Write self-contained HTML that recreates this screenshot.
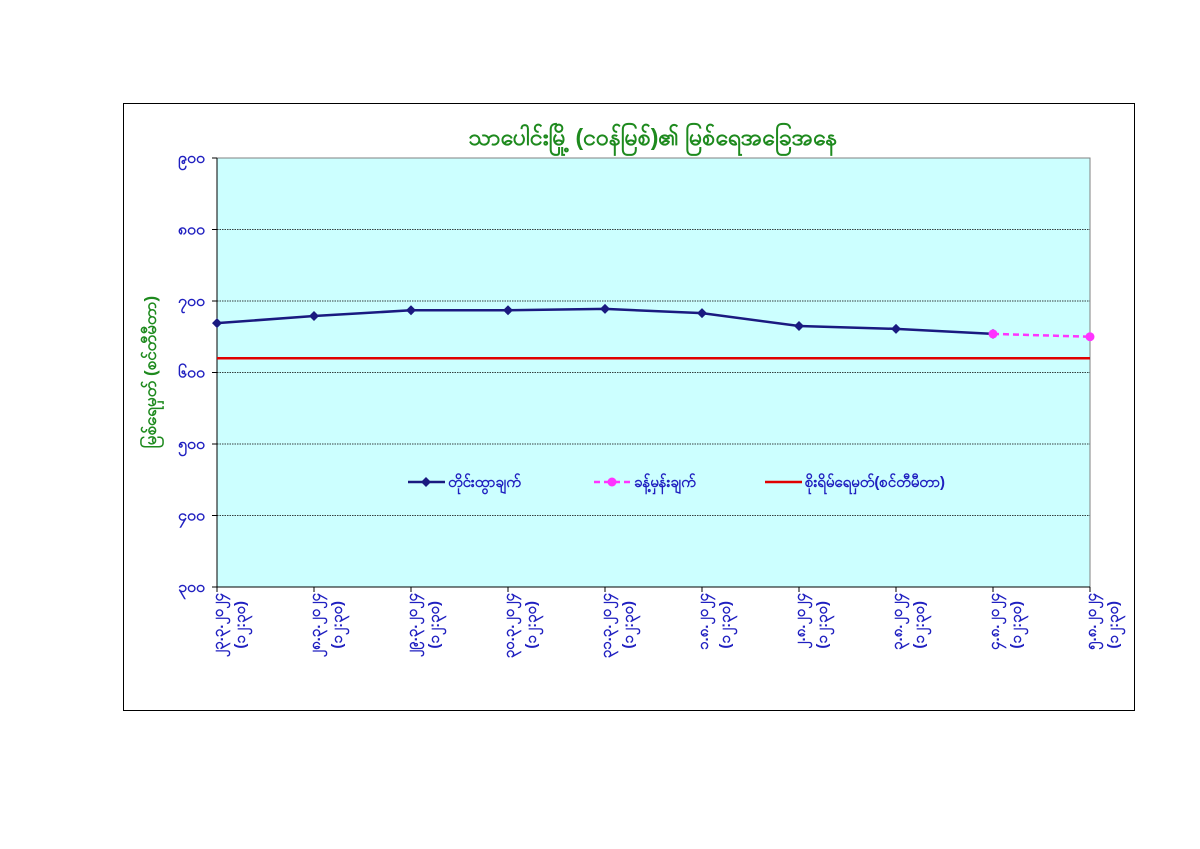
<!DOCTYPE html>
<html><head><meta charset="utf-8"><style>
html,body{margin:0;padding:0;background:#fff;width:1200px;height:849px;overflow:hidden}
svg{display:block;font-family:"Liberation Sans","Noto Sans CJK SC",sans-serif}
</style></head><body>
<svg id="chart" width="1200" height="849">
<rect x="123.5" y="103.5" width="1011" height="607" fill="#fff" stroke="#000" stroke-width="1"/>
<text x="653" y="145" text-anchor="middle" font-size="23" font-weight="bold" fill="#1e8a1e">သာပေါင်းမြို့ (ငဝန်မြစ်)၏ မြစ်ရေအခြေအနေ</text>
<text transform="translate(156,372) rotate(-90)" text-anchor="middle" font-size="17" font-weight="bold" fill="#1e8a1e">မြစ်ရေမှတ် (စင်တီမီတာ)</text>
<g id="plot"></g>
</svg>
<script>
const categories=["၂၃.၃.၂၀၂၄","၂၈.၃.၂၀၂၄","၂၉.၃.၂၀၂၄","၃၀.၃.၂၀၂၄","၃၁.၃.၂၀၂၄","၁.၈.၂၀၂၄","၂.၈.၂၀၂၄","၃.၈.၂၀၂၄","၄.၈.၂၀၂၄","၅.၈.၂၀၂၄"];
const timeLabel="(၁၂:၃၀)";
const observed=[669,679,687,687,689,683,665,661,654,null];
const forecast=[null,null,null,null,null,null,null,null,654,650];
const dangerLevel=620;
const yTicks=[300,400,500,600,700,800,900];
const yTickLabels=["၃၀၀","၄၀၀","၅၀၀","၆၀၀","၇၀၀","၈၀၀","၉၀၀"];
const legendLabels=["တိုင်းထွာချက်","ခန့်မှန်းချက်","စိုးရိမ်ရေမှတ်(စင်တီမီတာ)"];

const X0=217,X1=1090,Y0=587,Y1=158,YMIN=300,YMAX=900;
const xs=i=>X0+(X1-X0)*i/(categories.length-1);
const ys=v=>Y0-(v-YMIN)/(YMAX-YMIN)*(Y0-Y1);
const NS="http://www.w3.org/2000/svg";
const g=document.getElementById('plot');
function mk(t,a,p){const e=document.createElementNS(NS,t);for(const k in a)e.setAttribute(k,a[k]);(p||g).appendChild(e);return e;}

const bg=mk('rect',{x:X0,y:Y1,width:X1-X0,height:Y0-Y1,fill:'#ccffff',stroke:'#808080'});



yTicks.forEach((v,i)=>{
  const y=ys(v);
  if(v!==YMIN&&v!==YMAX){const l=mk('line',{x1:X0,x2:X1,y1:y,y2:y,stroke:'#000','stroke-width':0.7,'stroke-dasharray':'1.5,1'});
  
  }
  mk('line',{x1:X0-5,x2:X0,y1:y,y2:y,stroke:'#000'});
  const t=mk('text',{x:X0-12,y:y+5,'text-anchor':'end','font-size':16,'font-weight':'bold',fill:'#2020c0'});
  t.textContent=yTickLabels[i];
  
  
});
mk('line',{x1:X0,x2:X0,y1:Y1,y2:Y0,stroke:'#000'});
mk('line',{x1:X0,x2:X1,y1:Y0,y2:Y0,stroke:'#000'});

categories.forEach((c,i)=>{
  const x=xs(i);
  mk('line',{x1:x,x2:x,y1:Y0,y2:Y0+5,stroke:'#000'});
  const t=mk('text',{transform:`translate(${x+6},${Y0+6}) rotate(-90)`,'text-anchor':'end','font-size':15,'font-weight':'bold',fill:'#2020c0'});
  t.textContent=c;
  
  
  const t2=mk('text',{transform:`translate(${x+28},${Y0+14}) rotate(-90)`,'text-anchor':'end','font-size':15,'font-weight':'bold',fill:'#2020c0'});
  t2.textContent=timeLabel;
  
  
});

const dl=mk('line',{x1:X0,x2:X1,y1:ys(dangerLevel),y2:ys(dangerLevel),stroke:'#e00000','stroke-width':2.5});



function series(arr,color,dash,marker,name){
  const pts=[];arr.forEach((v,i)=>{if(v!=null)pts.push([xs(i),ys(v)]);});
  const p=mk('polyline',{points:pts.map(p=>p.join(',')).join(' '),fill:'none',stroke:color,'stroke-width':2.5,'stroke-dasharray':dash||''});
  
  
  pts.forEach(([x,y])=>{
    const m=marker==='d'?mk('polygon',{points:`${x},${y-5} ${x+5},${y} ${x},${y+5} ${x-5},${y}`,fill:color}):mk('circle',{cx:x,cy:y,r:4.5,fill:color});
    
    
  });
}
series(observed,'#1a1a80','','d','observed');
series(forecast,'#ff33ff','6,4','o','forecast');

const LY=482;
const leg=[[408,'#1a1a80','','d'],[594,'#ff33ff','6,4','o'],[765,'#e00000','','']];
leg.forEach(([x,c,d,m],i)=>{
  const l=mk('line',{x1:x,x2:x+37,y1:LY,y2:LY,stroke:c,'stroke-width':2.5,'stroke-dasharray':d});
  
  
  if(m==='d')mk('polygon',{points:`${x+18},${LY-5} ${x+23},${LY} ${x+18},${LY+5} ${x+13},${LY}`,fill:c});
  if(m==='o')mk('circle',{cx:x+18,cy:LY,r:4.5,fill:c});
  const t=mk('text',{x:x+40,y:LY+5,'font-size':15,'font-weight':'bold',fill:'#2020c0'});
  t.textContent=legendLabels[i];
  
  
});
</script>
</body></html>
